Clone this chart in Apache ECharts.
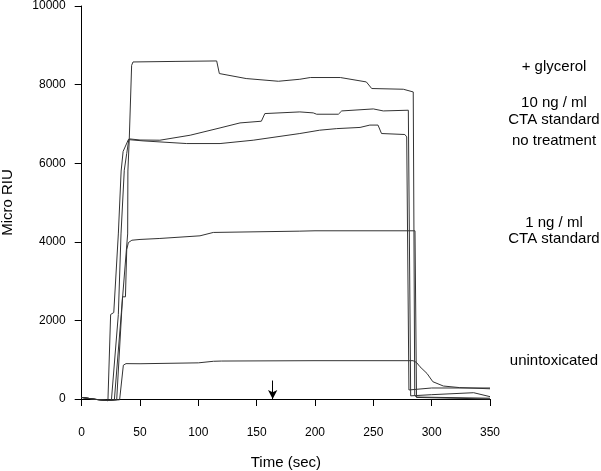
<!DOCTYPE html>
<html>
<head>
<meta charset="utf-8">
<script src="https://cdn.jsdelivr.net/npm/echarts@6/dist/echarts.min.js"></script>
<style>
  html, body { margin: 0; padding: 0; background: #fff; }
  #chart { width: 601px; height: 471px; }
</style>
</head>
<body>
<div id="chart"></div>
<script>
// series, [time (sec), micro RIU]
var glycerol = [[0, 40], [12, -10], [22, -40], [28, -20], [34, 2200], [39.4, 4200], [39.6, 5800],
  [40.8, 6630], [42.8, 8490], [44, 8576], [80, 8590], [115.7, 8602], [118, 8281], [141, 8154],
  [168.6, 8085], [187, 8136], [196, 8180], [221.7, 8180], [244, 8068], [248.6, 7900], [275.7, 7882],
  [284.2, 7813], [285.5, 100], [287, 40], [350, 0]]
var tenNg = [[0, 40], [12, -10], [22, -40], [25.5, -20], [31.4, 2150], [33.7, 4200], [36.5, 5820],
  [38.6, 6250], [40.5, 6620], [50, 6590], [67, 6585], [93, 6712], [118.6, 6898], [135.7, 7025],
  [154, 7068], [157, 7263], [187, 7305], [198.5, 7280], [201.4, 7246], [220, 7246], [222.9, 7330],
  [250, 7381], [258.5, 7330], [280, 7348], [282, 80], [300, 110], [336, 160], [350, 60]]
var noTreatment = [[0, 40], [12, -10], [22.5, -30], [24.8, 2150], [27.5, 2200], [31.4, 4200],
  [33.8, 5800], [35.5, 6300], [40, 6600], [52.6, 6568], [90, 6500], [118.6, 6500], [147, 6585],
  [187, 6755], [204, 6840], [218.6, 6880], [238.6, 6910], [247, 6970], [254, 6970], [257, 6755],
  [277, 6730], [278.6, 6670], [280.5, 230], [300, 280], [350, 280]]
var oneNg = [[0, 40], [12, -10], [22, -40], [30, -20], [35, 2600], [37.5, 2600], [38.6, 3800],
  [40, 3980], [43, 4040], [50, 4060], [67, 4085], [101.4, 4152], [112.8, 4238], [187, 4271],
  [200, 4280], [285.7, 4280], [287, 50], [350, 20]]
var unintoxicated = [[0, 40], [12, -10], [22, -40], [32.5, -20], [35.7, 860], [38, 900], [50, 897],
  [100, 920], [113, 960], [120, 966], [200, 975], [284, 975], [287, 930], [290, 820], [296, 650],
  [301, 440], [310, 330], [324, 290], [350, 260]]

var seriesData = [glycerol, tenNg, noTreatment, oneNg, unintoxicated]
var arrowTime = 163.7
var rightLabels = [
  {text: '+ glycerol', y: 67},
  {text: '10 ng / ml', y: 103},
  {text: 'CTA standard', y: 120},
  {text: 'no treatment', y: 141},
  {text: '1 ng / ml', y: 223},
  {text: 'CTA standard', y: 239},
  {text: 'unintoxicated', y: 361}
]

var font = 'Liberation Sans, Arial, sans-serif'
var chart = echarts.init(document.getElementById('chart'))

var series = seriesData.map(function (d, i) {
  var s = {
    type: 'line',
    data: d,
    showSymbol: false,
    clip: false,
    silent: true,
    lineStyle: {color: '#333', width: 1}
  }
  if (i === 0) {
    // the arrow under the trace (marker points must stay inside the axis range)
    s.markLine = {
      silent: true,
      symbol: ['none', 'arrow'],
      symbolSize: [7, 9],
      label: {show: false},
      lineStyle: {color: '#000', width: 1, type: 'solid'},
      data: [[{coord: [arrowTime, 470]}, {coord: [arrowTime, 0]}]]
    }
  }
  return s
})

var option = {
  animation: false,
  backgroundColor: '#fff',
  grid: {left: 81.7, right: 111, top: 6, bottom: 72, containLabel: false, outerBoundsMode: 'none'},
  xAxis: {
    type: 'value',
    min: 0,
    max: 350,
    interval: 50,
    offset: 9,
    name: 'Time (sec)',
    nameLocation: 'middle',
    nameGap: 47,
    nameTextStyle: {color: '#000', fontSize: 15, fontFamily: font},
    axisLine: {show: true, lineStyle: {color: '#000', width: 1}},
    axisTick: {show: true, inside: false, length: 7, lineStyle: {color: '#000'}},
    axisLabel: {color: '#000', fontSize: 12, fontFamily: font, margin: 19},
    splitLine: {show: false}
  },
  yAxis: {
    type: 'value',
    min: 0,
    max: 10000,
    interval: 2000,
    offset: 2,
    name: 'Micro RIU',
    nameLocation: 'middle',
    nameGap: 64,
    nameRotate: 90,
    nameTextStyle: {color: '#000', fontSize: 15, fontFamily: font},
    axisLine: {show: true, lineStyle: {color: '#000', width: 1}},
    axisTick: {show: true, length: 7, lineStyle: {color: '#000'}},
    axisLabel: {
      color: '#000', fontSize: 12, fontFamily: font, margin: 14,
      formatter: function (v) { return String(v) }
    },
    splitLine: {show: false}
  },
  graphic: rightLabels.map(function (l) {
    return {
      type: 'text',
      x: 554,
      y: l.y,
      style: {
        text: l.text,
        align: 'center',
        verticalAlign: 'middle',
        fill: '#000',
        fontSize: 15,
        fontFamily: font
      }
    }
  }),
  series: series
}

chart.setOption(option)
</script>
</body>
</html>
